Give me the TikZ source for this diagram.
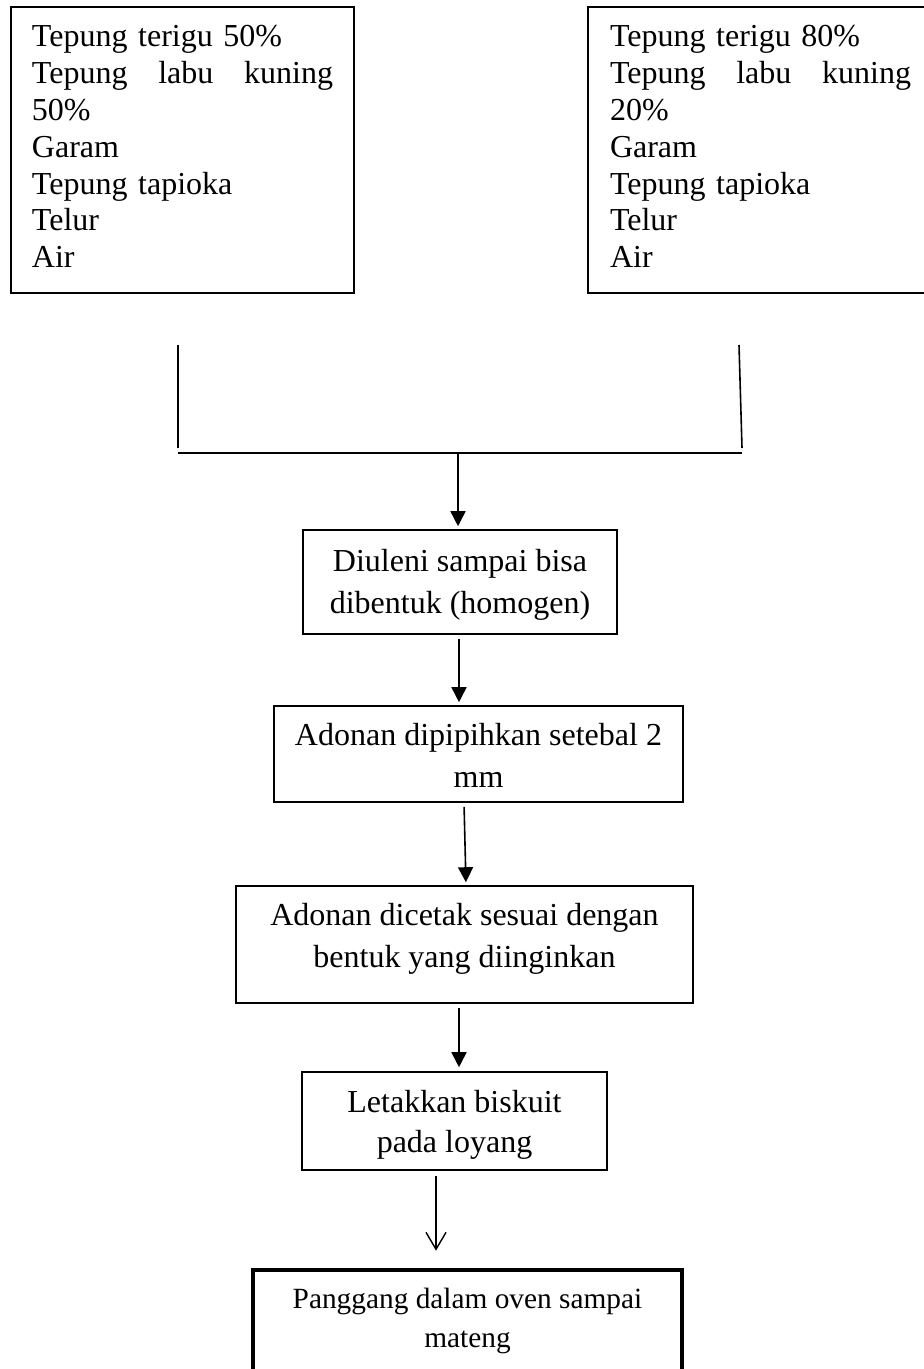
\documentclass[tikz,border=0pt]{standalone}
\usepackage{fontspec}
\setmainfont{Liberation Serif}
\usetikzlibrary{arrows.meta,calc}
\tikzset{
  box/.style={draw, line width=0.8pt, inner sep=0pt, align=center},
  topbox/.style={box, text width=150.5pt, align=left,
    font=\fontsize{16pt}{18.4pt}\selectfont,
    text height=11pt, text depth=114pt, minimum height=143pt},
  midbox/.style={box, font=\fontsize{16pt}{21pt}\selectfont, text depth=4.5pt},
  conn/.style={line width=0.8pt},
  arr/.style={line width=0.8pt, -{Triangle[length=7.5pt,width=7.5pt]}},
  openarr/.style={line width=0.7pt, -{Straight Barb[length=8.5pt,width=10pt]}}
}
\begin{document}
\begin{tikzpicture}[x=0.5pt,y=-0.5pt]
\useasboundingbox (0,0) rectangle (923,1369);

% top ingredient boxes
\node[topbox, minimum width=171.75pt] (L) at (182.5,150)
  {Tepung terigu 50\%\\Tepung\hfill labu\hfill kuning\\50\%\\Garam\\Tepung tapioka\\Telur\\Air};
\node[topbox, minimum width=172.5pt] (R) at (760.5,150)
  {Tepung terigu 80\%\\Tepung\hfill labu\hfill kuning\\20\%\\Garam\\Tepung tapioka\\Telur\\Air};

% joining lines
\coordinate (lt) at (178,345);
\coordinate (lb) at (178,448);
\coordinate (rt) at (739,345);
\coordinate (rb) at (742,448);
\coordinate (hl) at (178,453);
\coordinate (hr) at (742,453);
\coordinate (hm) at (458,453);
\draw[conn] (lt) -- (lb);
\draw[conn] (rt) -- (rb);
\draw[conn] (hl) -- (hr);

% process boxes
\node[midbox, minimum width=157pt, minimum height=52pt, text height=35.5pt] (b1) at (460,582)
  {Diuleni sampai bisa\\dibentuk (homogen)};
\node[midbox, minimum width=204.5pt, minimum height=48pt, text height=37.5pt] (b2) at (478.5,754)
  {Adonan dipipihkan setebal 2\\mm};
\node[midbox, minimum width=228.5pt, minimum height=58.5pt, text height=27pt] (b3) at (464.5,944.5)
  {Adonan dicetak sesuai dengan\\bentuk yang diinginkan};
\node[box, font=\fontsize{16pt}{20pt}\selectfont, text height=35.5pt, text depth=4.5pt,
      minimum width=152.5pt, minimum height=49pt] (b4) at (454.5,1121)
  {Letakkan biskuit\\pada loyang};
\node[box, line width=2.3pt, font=\fontsize{14.67pt}{19.5pt}\selectfont,
      text height=26.5pt, text depth=4.5pt, minimum width=214.5pt, minimum height=55pt] (b5) at (467.5,1325)
  {Panggang dalam oven sampai\\mateng};

% arrows
\draw[arr, shorten >=1.5pt] (hm) -- (hm |- b1.north);
\draw[arr, shorten <=2pt, shorten >=1.5pt] ($(b1.south)+(-1,0)$) -- ($(b2.north)+(-19.5,0)$);
\draw[arr, shorten <=2pt, shorten >=1.5pt] ($(b2.south)+(-14.5,0)$) -- ($(b3.north)+(1.5,0)$);
\draw[arr, shorten <=2pt, shorten >=2pt] ($(b3.south)+(-5.5,0)$) -- ($(b4.north)+(4.5,0)$);
\draw[openarr, shorten <=2.5pt, shorten >=8.5pt] ($(b4.south)+(-18.5,0)$) -- ($(b5.north)+(-31.5,0)$);
\end{tikzpicture}
\end{document}
